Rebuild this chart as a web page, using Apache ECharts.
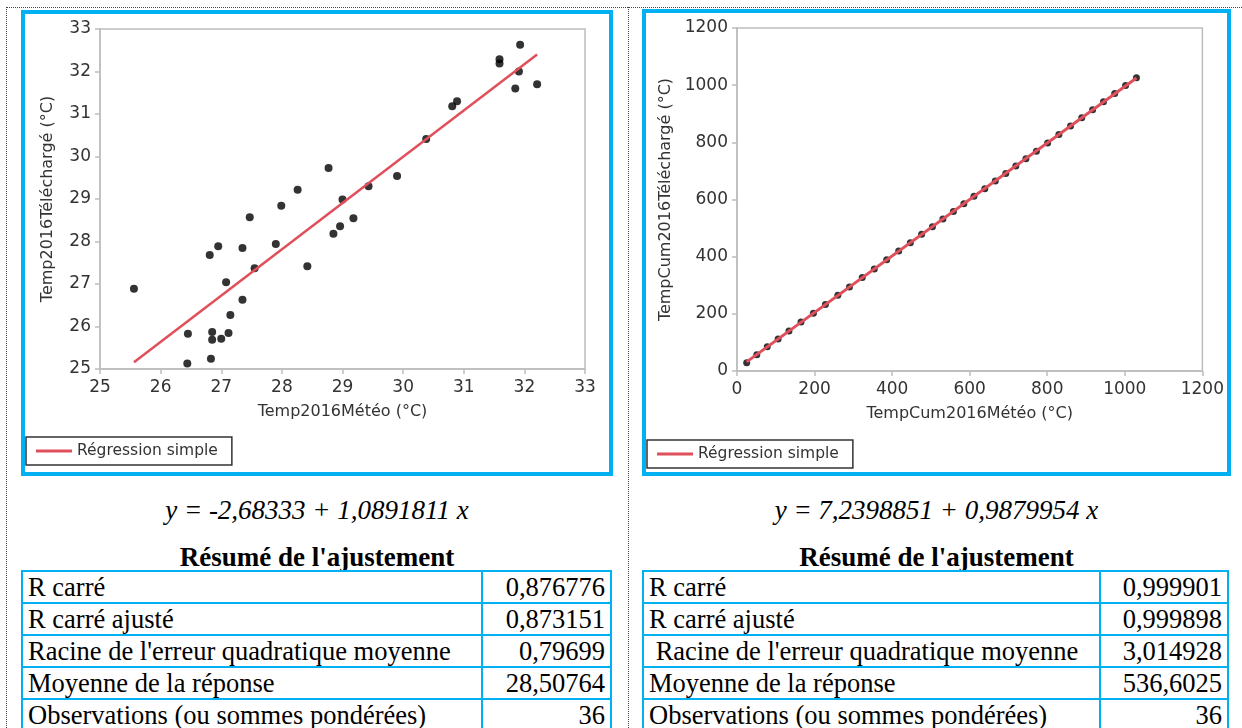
<!DOCTYPE html>
<html>
<head>
<meta charset="utf-8">
<script src="https://cdn.jsdelivr.net/npm/echarts@6/dist/echarts.min.js"></script>
<style>
  html, body { margin: 0; padding: 0; background: #fff; }
  body { width: 1242px; height: 728px; position: relative; overflow: hidden; }
  .dot-h { position: absolute; left: 6px; top: 7px; width: 1236px; border-top: 1px dotted #444; }
  .dot-v { position: absolute; top: 7px; height: 721px; border-left: 1px dotted #444; }
  .frame { position: absolute; box-sizing: border-box; border: 4px solid #00b0f0; }
  .chart { width: 100%; height: 100%; }
  .eq, .head { position: absolute; text-align: center; font-family: 'Liberation Serif', serif; font-size: 27px; line-height: 30px; color: #000; white-space: nowrap; }
  .eq { font-style: italic; }
  .head { font-weight: bold; }
  table.fit { position: absolute; border-collapse: collapse; font-family: 'Liberation Serif', serif; font-size: 26.5px; color: #000; table-layout: fixed; }
  table.fit td { border: 2px solid #00b0f0; height: 30px; line-height: 30px; padding: 0 5px; white-space: nowrap; }
  table.fit td.v { text-align: right; }
</style>
</head>
<body>
<div class="dot-h"></div>
<div class="dot-v" style="left:6px"></div>
<div class="dot-v" style="left:628px"></div>

<div class="frame" style="left:21px; top:10px; width:592px; height:466px;">
  <div id="left" class="chart"></div>
</div>
<div class="frame" style="left:642px; top:9px; width:589px; height:467px;">
  <div id="right" class="chart"></div>
</div>

<div class="eq" style="left:21px; top:495px; width:592px;">y = -2,68333 + 1,0891811 x</div>
<div class="eq" style="left:642px; top:495px; width:589px;">y = 7,2398851 + 0,9879954 x</div>
<div class="head" style="left:21px; top:542px; width:592px;">Résumé de l'ajustement</div>
<div class="head" style="left:642px; top:542px; width:589px;">Résumé de l'ajustement</div>

<table class="fit" id="tabLeft" style="left:21px; top:570px; width:591px;">
  <colgroup><col style="width:460px"><col></colgroup>
</table>
<table class="fit" id="tabRight" style="left:642px; top:570px; width:587px;">
  <colgroup><col style="width:457px"><col></colgroup>
</table>

<script>
// nuage de points gauche : température journalière
const leftMeteo = [25.56, 26.45, 26.44, 26.81, 26.95, 26.85, 26.85, 26.83, 27.00, 27.08, 27.12, 27.15,
  27.35, 27.35, 27.47, 27.55, 27.90, 27.99, 28.42, 28.26, 28.77, 29.00, 29.43, 29.90,
  30.38, 30.81, 30.89, 31.59, 31.59, 31.93, 31.91, 31.85, 32.21, 28.85, 28.96, 29.18]
const leftTelecharge = [26.89, 25.83, 25.13, 27.68, 27.89, 25.87, 25.69, 25.24, 25.71, 27.04, 25.85, 26.27,
  27.85, 26.63, 28.57, 27.37, 27.94, 28.84, 27.42, 29.22, 29.73, 28.99, 29.30, 29.54,
  30.41, 31.18, 31.30, 32.29, 32.19, 32.63, 32.00, 31.60, 31.70, 28.18, 28.36, 28.55]
const leftFitX = [25.56, 32.21]
const leftFitY = [25.16, 32.40]

// nuage de points droit : températures cumulées
const cumMeteo = [25, 51, 78, 106, 134, 165, 197, 228, 260, 290, 323, 354, 386, 417, 447, 476, 504, 531,
  558, 585, 611, 639, 666, 693, 719, 745, 772, 801, 830, 860, 889, 917, 945, 974, 1002, 1030]
const cumTelecharge = [29, 57, 85, 112, 140, 171, 202, 233, 265, 294, 327, 357, 389, 420, 449, 478, 505, 532,
  558, 585, 611, 638, 665, 691, 717, 743, 769, 798, 827, 857, 886, 914, 942, 971, 999, 1026]
const rightFitX = [25, 1030]
const rightFitY = [31.9, 1024.9]

const tableLabels = ['R carré', 'R carré ajusté', "Racine de l'erreur quadratique moyenne", 'Moyenne de la réponse', 'Observations (ou sommes pondérées)']
const tableRightLabels = ['R carré', 'R carré ajusté', "\u00a0Racine de l'erreur quadratique moyenne", 'Moyenne de la réponse', 'Observations (ou sommes pondérées)']
const leftStats = ['0,876776', '0,873151', '0,79699', '28,50764', '36']
const rightStats = ['0,999901', '0,999898', '3,014928', '536,6025', '36']

const FONT = 'DejaVu Sans'
const GRAY = '#bdbdbd'
const RED = '#e0505c'

function zip (xs, ys) {
  return xs.map((x, i) => [x, ys[i]])
}

function axis (min, max, interval, name, gap, labelMargin) {
  return {
    type: 'value',
    min: min,
    max: max,
    interval: interval,
    name: name,
    nameLocation: 'middle',
    nameGap: gap,
    nameTextStyle: {color: '#333', fontFamily: FONT, fontSize: 16},
    axisLine: {show: true, lineStyle: {color: GRAY, width: 1.5}},
    axisTick: {show: true, inside: false, length: 5, lineStyle: {color: GRAY, width: 1.5}},
    axisLabel: {
      color: '#333',
      fontFamily: FONT,
      fontSize: 17,
      margin: labelMargin,
      formatter: function (value) {
        return String(value)
      }
    },
    splitLine: {show: false}
  }
}

function buildOption (cfg) {
  return {
    animation: false,
    grid: {
      show: true,
      left: cfg.grid[0],
      top: cfg.grid[1],
      right: cfg.grid[2],
      bottom: cfg.grid[3],
      borderColor: GRAY,
      borderWidth: 1.5,
      backgroundColor: 'transparent'
    },
    legend: {
      data: [{name: 'Régression simple', icon: 'rect'}],
      left: 1,
      top: cfg.legendTop,
      itemWidth: 36,
      itemHeight: 3,
      padding: [6, 14, 6, 10],
      borderColor: '#333',
      borderWidth: 1.5,
      borderRadius: 0,
      textStyle: {color: '#333', fontFamily: FONT, fontSize: 15.5}
    },
    xAxis: axis(cfg.min, cfg.max, cfg.interval, cfg.xName, cfg.xGap, 10),
    yAxis: axis(cfg.min, cfg.max, cfg.interval, cfg.yName, cfg.yGap, 9),
    series: [
      {
        name: 'points',
        type: 'scatter',
        symbolSize: cfg.dot,
        itemStyle: {color: '#000'},
        data: cfg.points
      },
      {
        name: 'Régression simple',
        type: 'line',
        symbol: 'none',
        z: 3,
        itemStyle: {color: RED},
        lineStyle: {color: RED, width: cfg.lineWidth},
        data: cfg.fit
      }
    ]
  }
}

function fillTable (id, labels, values) {
  let t = document.getElementById(id)
  labels.forEach((lab, i) => {
    let tr = document.createElement('tr')
    let a = document.createElement('td')
    a.textContent = lab
    let b = document.createElement('td')
    b.className = 'v'
    b.textContent = values[i]
    tr.appendChild(a)
    tr.appendChild(b)
    t.appendChild(tr)
  })
}

let Left = echarts.init(document.getElementById('left'))
Left.setOption(buildOption({
  grid: [75, 15, 24, 103],
  legendTop: 423,
  min: 25,
  max: 33,
  interval: 1,
  xName: 'Temp2016Météo (°C)',
  yName: 'Temp2016Téléchargé (°C)',
  xGap: 35,
  yGap: 44,
  dot: 8,
  lineWidth: 2.5,
  points: zip(leftMeteo, leftTelecharge),
  fit: zip(leftFitX, leftFitY)
}))

let Right = echarts.init(document.getElementById('right'))
Right.setOption(buildOption({
  grid: [91, 15, 24, 101],
  legendTop: 427,
  min: 0,
  max: 1200,
  interval: 200,
  xName: 'TempCum2016Météo (°C)',
  yName: 'TempCum2016Téléchargé (°C)',
  xGap: 35,
  yGap: 58,
  dot: 7,
  lineWidth: 3,
  points: zip(cumMeteo, cumTelecharge),
  fit: zip(rightFitX, rightFitY)
}))

fillTable('tabLeft', tableLabels, leftStats)
fillTable('tabRight', tableRightLabels, rightStats)
</script>
</body>
</html>
